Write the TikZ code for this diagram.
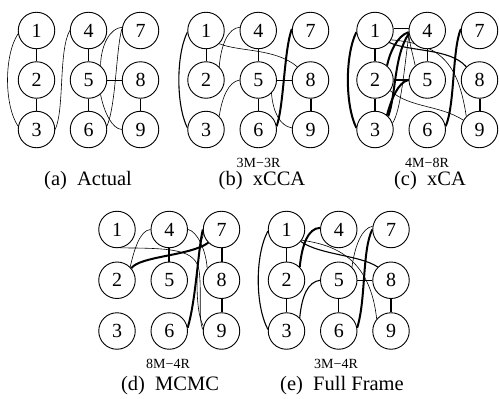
\documentclass[tikz,border=0pt]{standalone}
\usepackage{fontspec}
\setmainfont{Liberation Serif}
\usetikzlibrary{backgrounds}
% nine numbered circles in three columns: prefix, first x, first y, column step, row step
\newcommand\ninegrid[5]{%
  \foreach \c in {0,1,2}{\foreach \r in {0,1,2}{%
    \pgfmathtruncatemacro\k{3*\c+\r+1}%
    \node[nd] (#1\k) at ({#2+#4*\c},{#3+#5*\r}) {\k};}}}
\begin{document}
\begin{tikzpicture}[x=1pt,y=-1pt,
  nd/.style={circle,draw,fill=white,line width=0.9pt,minimum size=36.5pt,inner sep=0pt,
             font=\fontsize{20}{20}\selectfont},
  thin1/.style={line width=0.6pt},
  mid1/.style={line width=1.1pt},
  thk/.style={line width=2pt},
  captxt/.style={font=\fontsize{20.5}{20.5}\selectfont},
  tag/.style={font=\fontsize{14}{14}\selectfont}]
\useasboundingbox (0,0) rectangle (499,399);

\ninegrid{a}{36.5}{30.5}{52}{49.5}
\ninegrid{b}{206}{30.5}{52.25}{49.5}
\ninegrid{c}{375}{30.5}{52.25}{49.5}
\ninegrid{d}{117}{229.5}{52.25}{50.75}
\ninegrid{e}{286.5}{229.5}{52.25}{50.75}

\begin{pgfonlayer}{background}
% (a) actual structure
\draw[thin1] (a1)--(a2) (a2)--(a3) (a4)--(a5) (a5)--(a6) (a5)--(a8) (a8)--(a9);
\draw[thin1] (a1.190) .. controls (4,55) and (4,105) .. (a3.170);
\draw[thin1] (a3.east) .. controls (64.5,109.5) and (58.5,50.5) .. (a4.west);
\draw[thin1] (a5.50) .. controls (101,45) and (110,28) .. (a7.170);
\draw[thin1] (a5.-50) .. controls (104,112) and (112,129) .. (a9.180);
\draw[thin1] (a6.10) .. controls (116,105) and (116,50) .. (a7.175);

% (b) xCCA
\draw[thin1] (b1)--(b2) (b4)--(b5) (b5)--(b6) (b5)--(b8);
\draw[thk] (b8)--(b9);
\draw[mid1] (b1.185) .. controls (176,55) and (176,105) .. (b3.175);
\draw[thin1] (b2.45) .. controls (221,45) and (228,28) .. (b4.170);
\draw[thin1] (b1.-45) .. controls (240,52) and (275,48) .. (b8.135);
\draw[thin1] (b3.45) .. controls (222,98) and (228,82) .. (b5.180);
\draw[thin1] (b5.-45) .. controls (273,112) and (280,126) .. (b9.175);
\draw[thk] (b6.10) .. controls (284,105) and (284,50) .. (b7.175);

% (c) xCA
\draw[thk] (c1)--(c2) (c2)--(c3) (c8)--(c9) (c2)--(c5);
\draw[mid1] (c4)--(c5);
\draw[thk] (c1.185) .. controls (345,55) and (345,105) .. (c3.175);
\draw[mid1] (c1.5) -- (c4.175);
\draw[thk] (c4.185) .. controls (397,36) and (390,52) .. (c2.50);
\draw[thk] (c4.190) .. controls (394,55) and (396,95) .. (c3.45);
\draw[thin1] (c4.192) .. controls (404,70) and (401,110) .. (c3.20);
\draw[thin1] (c4.185) .. controls (409,42) and (413,55) .. (c5.130);
\draw[thk] (c5.180) .. controls (398,82) and (391,100) .. (c3.50);
\draw[mid1] (c1.-40) .. controls (410,52) and (450,48) .. (c8.135);
\draw[thin1] (c1.-30) .. controls (440,44) and (458,62) .. (c9.135);
\draw[thin1] (c2.-35) .. controls (410,108) and (440,105) .. (c9.150);
\draw[thk] (c6.10) .. controls (455,105) and (452,50) .. (c7.175);

% (d) MCMC
\draw[thk] (d4)--(d5) (d7)--(d8) (d8)--(d9);
\draw[thin1] (d2.45) .. controls (134,250) and (140,230) .. (d4.180);
\draw[thk] (d2.40) .. controls (140,256) and (190,256) .. (d7.225);
\draw[thin1] (d1.-80) .. controls (175,248) and (195,250) .. (199,270)
  .. controls (202,290) and (198,320) .. (d9.175);
\draw[thin1] (d4.0) .. controls (197,231) and (206,250) .. (d8.140);
\draw[thin1] (d7.195) .. controls (196,255) and (194,310) .. (d9.165);
\draw[thk] (d6.10) .. controls (196,300) and (198,250) .. (d7.180);

% (e) full frame
\draw[thin1] (e1)--(e2) (e2)--(e3) (e5)--(e8) (e5)--(e6);
\draw[thk] (e8)--(e9);
\draw[mid1] (e1.185) .. controls (255,255) and (255,305) .. (e3.175);
\draw[thk] (e2.45) .. controls (302,245) and (308,228) .. (e4.175);
\draw[mid1] (e3.45) .. controls (302,295) and (308,282) .. (e5.180);
\draw[mid1] (e1.-40) .. controls (320,255) and (360,255) .. (e8.135);
\draw[thin1] (e1.-35) .. controls (335,245) and (370,258) .. (e9.140);
\draw[thin1] (e5.45) .. controls (355,245) and (362,228) .. (e7.170);
\draw[thk] (e6.10) .. controls (366,300) and (362,250) .. (e7.180);
\end{pgfonlayer}

% error counts and captions
\node[tag] (tb) at (258.5,163) {3M−3R};
\node[tag] (tc) at (427,163) {4M−8R};
\node[tag] (td) at (168,364) {8M−4R};
\node[tag] (te) at (336,364) {3M−4R};
\node[captxt] (ca) at (88,181) {(a)\enspace Actual};
\node[captxt] (cb) at (262,181) {(b)\enspace xCCA};
\node[captxt] (cc) at (430,181) {(c)\enspace xCA};
\node[captxt] (cd) at (170,386) {(d)\enspace MCMC};
\node[captxt] (ce) at (342,386) {(e)\enspace Full Frame};
\end{tikzpicture}
\end{document}
